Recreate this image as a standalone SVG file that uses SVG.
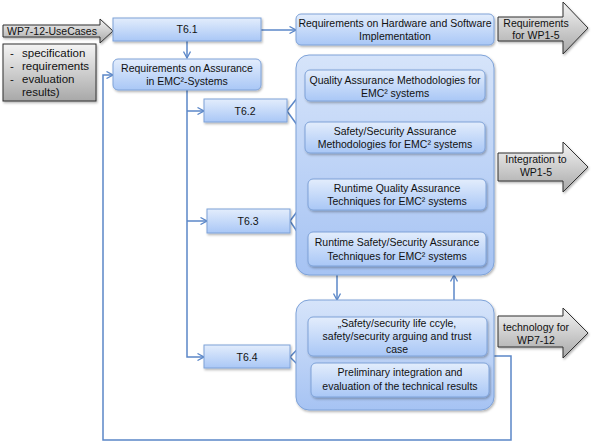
<svg xmlns="http://www.w3.org/2000/svg" width="591" height="442" viewBox="0 0 591 442">
<defs>
<linearGradient id="gb" x1="0" y1="0" x2="0" y2="1"><stop offset="0" stop-color="#e3edfc"/><stop offset="1" stop-color="#a9c7f6"/></linearGradient>
<linearGradient id="gc" x1="0" y1="0" x2="0" y2="1"><stop offset="0" stop-color="#d6e4fa"/><stop offset="1" stop-color="#a6c3f3"/></linearGradient>
<linearGradient id="gg" x1="0" y1="0" x2="0" y2="1"><stop offset="0" stop-color="#f4f4f4"/><stop offset="1" stop-color="#a8a8a8"/></linearGradient>
<filter id="sh" x="-10%" y="-10%" width="130%" height="140%"><feDropShadow dx="1" dy="1.5" stdDeviation="1" flood-color="#000" flood-opacity="0.3"/></filter>
<marker id="ar" viewBox="0 0 8 8" refX="7.5" refY="4" markerWidth="8" markerHeight="8" markerUnits="userSpaceOnUse" orient="auto"><path d="M1,0.5 L7.5,4 L1,7.5" fill="none" stroke="#5b87c8" stroke-width="1.3"/></marker>
</defs>
<style>
.box{fill:url(#gb);stroke:#7ea2d8;stroke-width:1;filter:url(#sh)}
.cont{fill:url(#gc);stroke:#7ea2d8;stroke-width:1;filter:url(#sh)}
.gray{fill:url(#gg);stroke:#303030;stroke-width:1;filter:url(#sh)}
text{font-family:"Liberation Sans",Arial,sans-serif;font-size:10.5px;fill:#111;text-anchor:middle}
.l{text-anchor:start;font-size:11.5px}
.c{fill:none;stroke:#5b87c8;stroke-width:1.5}
.a{marker-end:url(#ar)}
</style>

<g id="wp712usecases">
<path class="gray" d="M3,25 H100 V19 L113,31 L100,43 V37 H3 Z"/>
<text x="52" y="35">WP7-12-UseCases</text>
</g>
<g id="inputs">
<rect class="gray" x="3" y="44" width="93" height="57"/>
<text class="l" x="10" y="57">-</text><text class="l" x="22" y="57">specification</text>
<text class="l" x="10" y="70">-</text><text class="l" x="22" y="70">requirements</text>
<text class="l" x="10" y="83">-</text><text class="l" x="22" y="83">evaluation</text>
<text class="l" x="22" y="96">results)</text>
</g>

<g id="connectors">
<path class="c a" d="M187,41 V58"/>
<path class="c a" d="M261,30 H296"/>
<path class="c a" d="M187,90 V357 H204"/>
<path class="c a" d="M187,111 H204"/>
<path class="c a" d="M187,221 H207"/>
<path class="c a" d="M287,111 L305,88"/>
<path class="c a" d="M287,111 L305,136"/>
<path class="c a" d="M290,221 L308,197"/>
<path class="c a" d="M290,221 L308,248"/>
<path class="c a" d="M290,357 L308,338"/>
<path class="c a" d="M290,357 L311,378"/>
<path class="c a" d="M337,275 V300"/>
<path class="c a" d="M454,300 V275"/>
<path class="c a" d="M494,356 H511 V440 H103 V75 H113"/>
</g>

<g id="t61">
<rect class="box" x="113" y="18" width="148" height="23"/>
<text x="187" y="33">T6.1</text>
</g>
<g id="req-assurance">
<rect class="box" x="113" y="59" width="148" height="31" rx="5"/>
<text x="187" y="72">Requirements on Assurance</text>
<text x="187" y="85">in EMC²-Systems</text>
</g>
<g id="req-hw-sw">
<rect class="box" x="296" y="14" width="198" height="31" rx="5"/>
<text x="395" y="27">Requirements on Hardware and Software</text>
<text x="395" y="40">Implementation</text>
</g>
<g id="req-wp15">
<path class="gray" d="M498,17 H563 V2 L588,28 L563,54 V41 H498 Z"/>
<text x="536" y="27">Requirements</text>
<text x="536" y="39">for WP1-5</text>
</g>

<g id="t62">
<rect class="box" x="204" y="99" width="83" height="23"/>
<text x="245" y="115">T6.2</text>
</g>
<g id="t63">
<rect class="box" x="207" y="209" width="83" height="24"/>
<text x="248" y="225">T6.3</text>
</g>
<g id="t64">
<rect class="box" x="204" y="345" width="86" height="23"/>
<text x="247" y="361">T6.4</text>
</g>

<g id="container1">
<rect class="cont" x="296" y="55" width="198" height="220" rx="13"/>
</g>
<g id="qa-methods">
<rect class="box" x="305" y="70" width="180" height="31" rx="5"/>
<text x="395" y="84">Quality Assurance Methodologies for</text>
<text x="395" y="97">EMC² systems</text>
</g>
<g id="ss-methods">
<rect class="box" x="305" y="122" width="180" height="31" rx="5"/>
<text x="395" y="135">Safety/Security Assurance</text>
<text x="395" y="148">Methodologies for EMC² systems</text>
</g>
<g id="rt-qa">
<rect class="box" x="308" y="179" width="178" height="31" rx="5"/>
<text x="397" y="192">Runtime Quality Assurance</text>
<text x="397" y="205">Techniques for EMC² systems</text>
</g>
<g id="rt-ss">
<rect class="box" x="308" y="232" width="178" height="34" rx="5"/>
<text x="397" y="246">Runtime Safety/Security Assurance</text>
<text x="397" y="260">Techniques for EMC² systems</text>
</g>
<g id="integration-wp15">
<path class="gray" d="M498,153 H563 V142 L588,167 L563,192 V181 H498 Z"/>
<text x="536" y="163">Integration to</text>
<text x="536" y="176">WP1-5</text>
</g>

<g id="container2">
<rect class="cont" x="296" y="300" width="198" height="110" rx="13"/>
</g>
<g id="lifecycle">
<rect class="box" x="308" y="317" width="179" height="39" rx="5"/>
<text x="397" y="327">„Safety/security life ccyle,</text>
<text x="397" y="340">safety/security arguing and trust</text>
<text x="397" y="353">case</text>
</g>
<g id="preliminary">
<rect class="box" x="311" y="363" width="178" height="34" rx="5"/>
<text x="400" y="376">Preliminary integration and</text>
<text x="400" y="390">evaluation of the technical results</text>
</g>
<g id="tech-wp712">
<path class="gray" d="M498,316 H563 V308 L588,333 L563,358 V347 H498 Z"/>
<text x="536" y="331">technology for</text>
<text x="536" y="344">WP7-12</text>
</g>
</svg>
